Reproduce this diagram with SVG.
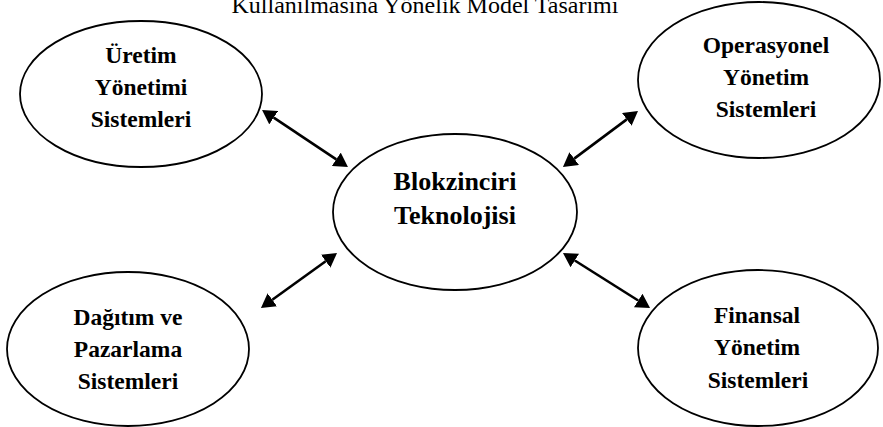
<svg xmlns="http://www.w3.org/2000/svg" width="883" height="427" viewBox="0 0 883 427">
<style>
.node ellipse{fill:#fff;stroke:#000;stroke-width:1.8}
.lbl{font-family:"Liberation Serif","Times New Roman",serif;font-weight:bold;font-size:23.5px;text-anchor:middle;fill:#000}
.big{font-size:26px}
.title{font-family:"Liberation Serif","Times New Roman",serif;font-size:24px;text-anchor:middle;fill:#000}
.conn line{stroke:#000;stroke-width:2.6;marker-start:url(#ah);marker-end:url(#ah)}
</style>
<defs>
<marker id="ah" viewBox="0 0 14 16" refX="0" refY="8" markerWidth="14" markerHeight="16" markerUnits="userSpaceOnUse" orient="auto-start-reverse">
<path d="M0,0 L14,8 L0,16 z" fill="#000"/>
</marker>
</defs>
<rect width="883" height="427" fill="#fff"/>
<text class="title" x="425" y="12.5">Kullanılmasına Yönelik Model Tasarımı</text>
<g id="uretim" class="node">
<ellipse cx="141" cy="94" rx="121" ry="73"/>
<text class="lbl" x="141" y="63">Üretim</text>
<text class="lbl" x="141" y="95">Yönetimi</text>
<text class="lbl" x="141" y="127">Sistemleri</text>
</g>
<g id="operasyonel" class="node">
<ellipse cx="759" cy="80" rx="121" ry="78"/>
<text class="lbl" x="766" y="53">Operasyonel</text>
<text class="lbl" x="766" y="85">Yönetim</text>
<text class="lbl" x="766" y="117">Sistemleri</text>
</g>
<g id="blokzinciri" class="node">
<ellipse cx="455" cy="212" rx="122" ry="78"/>
<text class="lbl big" x="455" y="190">Blokzinciri</text>
<text class="lbl big" x="455" y="224">Teknolojisi</text>
</g>
<g id="dagitim" class="node">
<ellipse cx="128" cy="349" rx="121" ry="77"/>
<text class="lbl" x="128" y="325">Dağıtım ve</text>
<text class="lbl" x="128" y="357">Pazarlama</text>
<text class="lbl" x="128" y="389">Sistemleri</text>
</g>
<g id="finansal" class="node">
<ellipse cx="758" cy="348" rx="120" ry="78"/>
<text class="lbl" x="757" y="323">Finansal</text>
<text class="lbl" x="757" y="355">Yönetim</text>
<text class="lbl" x="758" y="388">Sistemleri</text>
</g>
<g id="connectors" class="conn">
<line x1="273.7" y1="117.7" x2="336.3" y2="159.3"/>
<line x1="626.8" y1="119.4" x2="574.2" y2="158.6"/>
<line x1="325.7" y1="261.2" x2="272.3" y2="299.8"/>
<line x1="574.8" y1="260.5" x2="638.2" y2="300.5"/>
</g>
</svg>
